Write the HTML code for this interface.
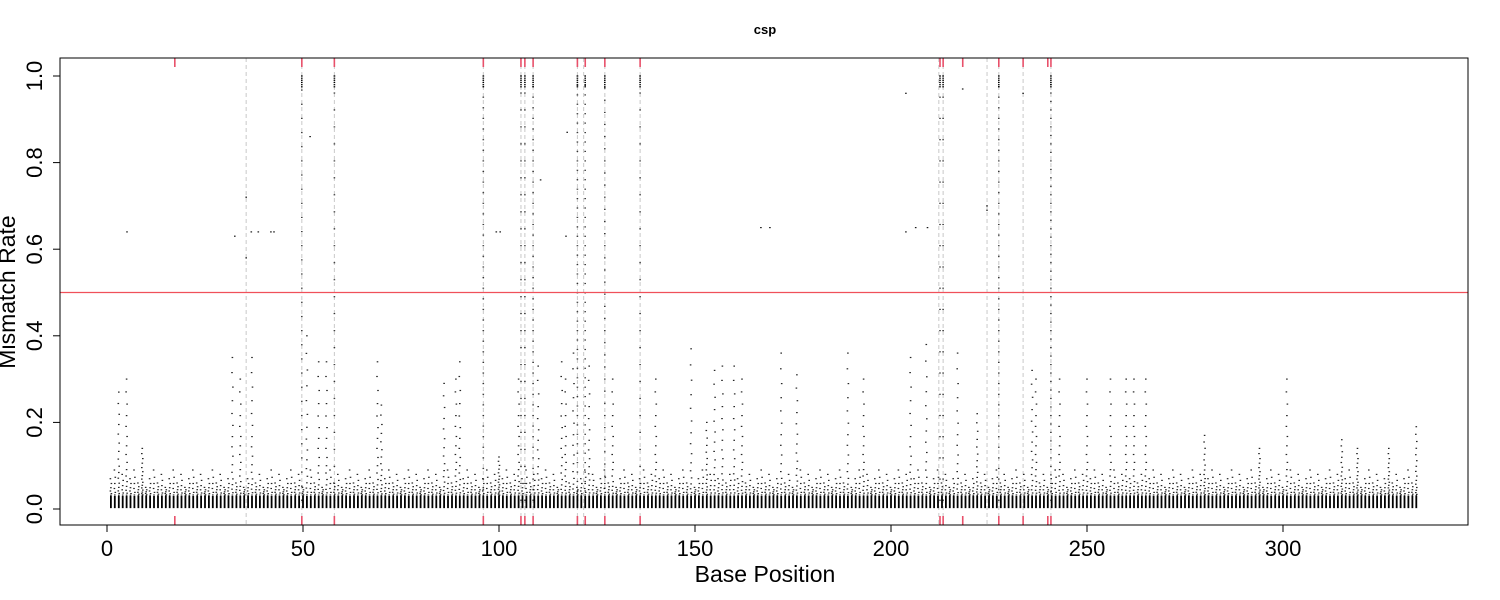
<!DOCTYPE html>
<html><head><meta charset="utf-8"><style>
body{margin:0;background:#fff}
svg{display:block;font-family:"Liberation Sans",Arial,sans-serif}
</style></head><body>
<svg id="chart" width="1500" height="600">
<text x="765" y="34" text-anchor="middle" font-size="13" font-weight="bold">csp</text>
<g id="marks"></g>
<rect x="60" y="58" width="1408" height="467" fill="none" stroke="#000" stroke-width="1"/>
<g id="axes"></g>
<text x="765" y="582" text-anchor="middle" font-size="23">Base Position</text>
<text transform="translate(15,292) rotate(-90)" text-anchor="middle" font-size="23">Mismatch Rate</text>
</svg>
<script>
const xTicks=[0,50,100,150,200,250,300];
const yTicks=[0,0.2,0.4,0.6,0.8,1.0];
const yTickLabels=["0.0","0.2","0.4","0.6","0.8","1.0"];
const nPositions=334;
const threshold=0.5;
const redMarks=[17.3,49.7,58,96,105.6,106.6,108.7,120,122,127,136,212.5,213.3,218.3,227.5,233.7,240,240.8];
const grayLines=[35.5,49.7,58,96,105.6,106.6,108.7,120,121.6,127,136,212.2,213.3,224.5,227.5,233.7,240.8];
const peakPos=[3,5,9,32,34,37,51,54,56,69,70,86,89,90,100,105,110,116,117,119,123,129,140,149,153,155,157,160,162,172,176,189,193,205,209,217,222,236,236.5,237,243,250,256,260,262,265,280,294,301,315,319,327,334];
const peakVal=[0.27,0.3,0.14,0.35,0.3,0.35,0.4,0.34,0.34,0.34,0.24,0.29,0.3,0.34,0.12,0.3,0.33,0.34,0.3,0.36,0.33,0.3,0.3,0.37,0.2,0.32,0.33,0.33,0.3,0.36,0.31,0.36,0.3,0.35,0.38,0.36,0.22,0.32,0.3,0.3,0.3,0.3,0.3,0.3,0.3,0.3,0.17,0.14,0.3,0.16,0.14,0.14,0.19];
const fullCols=[49.7,58,96,105.6,106.6,108.7,120,122,127,136,212.5,213.3,227.5,240.8];
const fullDensity=[0.6,0.5,0.8,0.5,0.5,0.8,0.9,0.9,0.7,0.5,0.4,0.4,0.8,1.0];
const outX=[5.1,32.6,35.5,35.5,36.8,38.6,41.8,42.6,51.8,99.3,100.3,110.6,117.1,117.4,166.8,169.1,203.8,203.8,206.3,209.3,218.3,224.5,224.5,233.7,233.7];
const outY=[0.64,0.63,0.72,0.58,0.64,0.64,0.64,0.64,0.86,0.64,0.64,0.76,0.63,0.87,0.65,0.65,0.96,0.64,0.65,0.65,0.97,0.7,0.69,0.5,0.96];

const NS="http://www.w3.org/2000/svg";
const X0=60,X1=1468,Y0=58,Y1=525;
function xs(v){return 107+v*3.92;}
function ys(v){return 509-v*433;}
const marks=document.getElementById('marks');
const axes=document.getElementById('axes');
function el(tag,attrs,parent){const e=document.createElementNS(NS,tag);for(const k in attrs)e.setAttribute(k,attrs[k]);parent.appendChild(e);return e;}
function pt(x,v,op){
  const r=el('rect',{x:(xs(x)-0.8).toFixed(1),y:(ys(v)-0.6).toFixed(1),width:1.6,height:1.2,fill:'#000','fill-opacity':op||0.85},marks);
  
  
}
grayLines.forEach(g=>{
  const l=el('line',{x1:xs(g),x2:xs(g),y1:Y0,y2:Y1,stroke:'#c8c8c8','stroke-dasharray':'4,3','stroke-width':1},marks);
  
  
});
for(let p=1;p<=nPositions;p++){
  const b=el('rect',{x:(xs(p)-0.9).toFixed(1),y:ys(0.03),width:1.8,height:ys(0.002)-ys(0.03),fill:'#000'},marks);
  
  
  const i=peakPos.findIndex(q=>Math.abs(q-p)<0.6);
  const pk=i>=0?peakVal[i]:0.05+((p*7)%5)*0.01;
  const n=i>=0?16:6;
  for(let k=1;k<=n;k++){
    const v=0.03+(pk-0.03)*Math.pow(k/n,1.8);
    pt(p+((k%3)-1)*0.12,v,0.85);
  }
}
fullCols.forEach((c,j)=>{
  const d=fullDensity[j];
  const n=Math.round(50*d);
  for(let k=0;k<=n;k++){pt(c,0.02+0.98*k/n,0.75);}
  for(let k=0;k<6;k++){pt(c,1-k*0.005,1);}
});
outX.forEach((x,i)=>pt(x,outY[i],0.9));
const th=el('line',{x1:X0,x2:X1,y1:ys(threshold),y2:ys(threshold),stroke:'#f0505a','stroke-width':1.3},marks);


redMarks.forEach(r=>{
  const a=el('line',{x1:xs(r),x2:xs(r),y1:Y0,y2:Y0+9,stroke:'#e8506a','stroke-width':1.6},marks);
  
  
  const b=el('line',{x1:xs(r),x2:xs(r),y1:Y1-9,y2:Y1,stroke:'#e8506a','stroke-width':1.6},marks);
  
  
});
el('line',{x1:xs(xTicks[0]),x2:xs(xTicks[xTicks.length-1]),y1:Y1,y2:Y1,stroke:'#000'},axes);
xTicks.forEach(t=>{
  const l=el('line',{x1:xs(t),x2:xs(t),y1:Y1,y2:Y1+7,stroke:'#000'},axes);
  
  
  const tx=el('text',{x:xs(t),y:556,'text-anchor':'middle','font-size':22},axes);
  tx.textContent=t;
  
  
});
yTicks.forEach((t,i)=>{
  const l=el('line',{x1:X0-7,x2:X0,y1:ys(t),y2:ys(t),stroke:'#000'},axes);
  
  
  const tx=el('text',{transform:`translate(42,${ys(t)}) rotate(-90)`,'text-anchor':'middle','font-size':22},axes);
  tx.textContent=yTickLabels[i];
  
  
});
</script>
</body></html>
